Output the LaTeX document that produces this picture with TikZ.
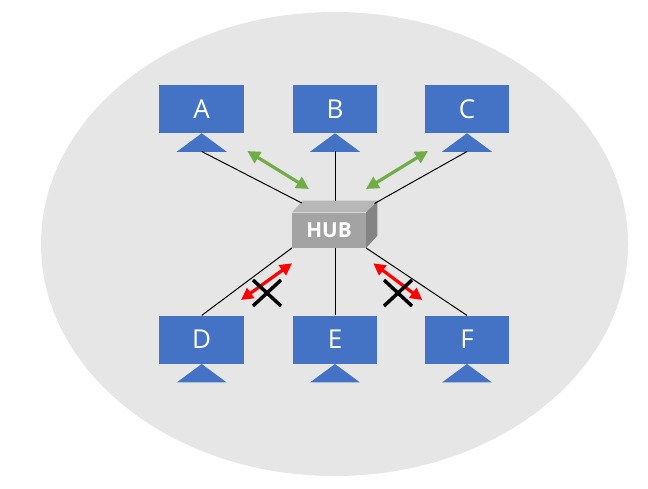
\documentclass[tikz,border=0pt]{standalone}
\usepackage{fontspec}
\setmainfont{Open Sans}
\usetikzlibrary{arrows.meta}
\definecolor{bgc}{HTML}{E6E6E6}
\definecolor{bluec}{HTML}{4472C4}
\definecolor{greenc}{HTML}{70AD47}
\definecolor{redc}{HTML}{FF0000}
\definecolor{hubc}{HTML}{A3A3A3}
\definecolor{hubtop}{HTML}{B7B7B7}
\definecolor{hubside}{HTML}{848484}
\tikzset{
  screen/.style={fill=bluec,draw=none,minimum width=63.5pt,minimum height=36pt,inner sep=0pt,text=white,font=\fontsize{19.5}{21}\selectfont},
  stand/.style={fill=bluec,draw=none},
  wire/.style={draw=black,line width=0.75pt},
  okarrow/.style={draw=greenc,line width=2.4pt,{Triangle[length=9.5pt,width=9.5pt]}-{Triangle[length=9.5pt,width=9.5pt]}},
  badarrow/.style={draw=redc,line width=2.4pt,{Triangle[length=9pt,width=9pt]}-{Triangle[length=9pt,width=9pt]}},
  cross/.style={draw=black,line width=2.6pt},
  hubface/.style={fill=hubc,draw=none,minimum width=55.25pt,minimum height=26.25pt,inner sep=0pt,text=white,font=\fontsize{15.5}{17}\selectfont\bfseries}
}
\begin{document}
\begin{tikzpicture}[x=0.75pt,y=-0.75pt]
\useasboundingbox (0,0) rectangle (648,488);
\fill[bgc] (334.5,244) ellipse [x radius=293.5,y radius=232];

% monitors
\node[screen] (A) at (201.7,109) {A};
\node[screen] (B) at (335,109) {B};
\node[screen] (C) at (467,109) {C};
\node[screen] (D) at (201.7,339.7) {D};
\node[screen] (E) at (335,339.7) {E};
\node[screen] (F) at (467,339.7) {F};

\foreach \n in {A,B,C,D,E,F}{
  \fill[stand] (\n.south) -- ++(25,18.5) -- ++(-50,0) -- cycle;
}
\coordinate (Abase) at (201.7,151.5);
\coordinate (Bbase) at (335,151.5);
\coordinate (Cbase) at (467,151.5);

% hub
\node[hubface] (hub) at (329,230.2) {HUB};
\fill[hubtop] (hub.north west) -- ++(10.7,-11.7) -- ++(74.3,0) -- (hub.north east) -- cycle;
\fill[hubside] (hub.north east) -- ++(11.3,-11.7) -- ++(0,35) -- (hub.south east) -- cycle;
\coordinate (hubA) at (301.7,203);
\coordinate (hubB) at (335,201);
\coordinate (hubC) at (374.5,203.5);
\coordinate (hubD) at (hub.south west);
\coordinate (hubE) at (335,247.7);
\coordinate (hubF) at (hub.south east);

% wires
\draw[wire] (Abase) -- (hubA);
\draw[wire] (Bbase) -- (hubB);
\draw[wire] (Cbase) -- (hubC);
\draw[wire] (D.north) -- (hubD);
\draw[wire] (E.north) -- (hubE);
\draw[wire] (F.north) -- (hubF);

% arrows
\coordinate (g1a) at (247.3,151);
\coordinate (g1b) at (309,189);
\coordinate (g2a) at (428,151);
\coordinate (g2b) at (366,189);
\coordinate (r1a) at (292,263.3);
\coordinate (r1b) at (241,300);
\coordinate (r2a) at (373.3,263.3);
\coordinate (r2b) at (422.3,300);
\draw[okarrow] (g1a) -- (g1b);
\draw[okarrow] (g2a) -- (g2b);
\draw[badarrow] (r1a) -- (r1b);
\draw[badarrow] (r2a) -- (r2b);

% crosses
\coordinate (x1a) at (253,280);
\coordinate (x1b) at (281,306);
\coordinate (x1c) at (253,306);
\coordinate (x1d) at (281,280);
\coordinate (x2a) at (384,280);
\coordinate (x2b) at (412,306);
\coordinate (x2c) at (384,306);
\coordinate (x2d) at (412,280);
\draw[cross] (x1a) -- (x1b);
\draw[cross] (x1c) -- (x1d);
\draw[cross] (x2a) -- (x2b);
\draw[cross] (x2c) -- (x2d);
\end{tikzpicture}
\end{document}
